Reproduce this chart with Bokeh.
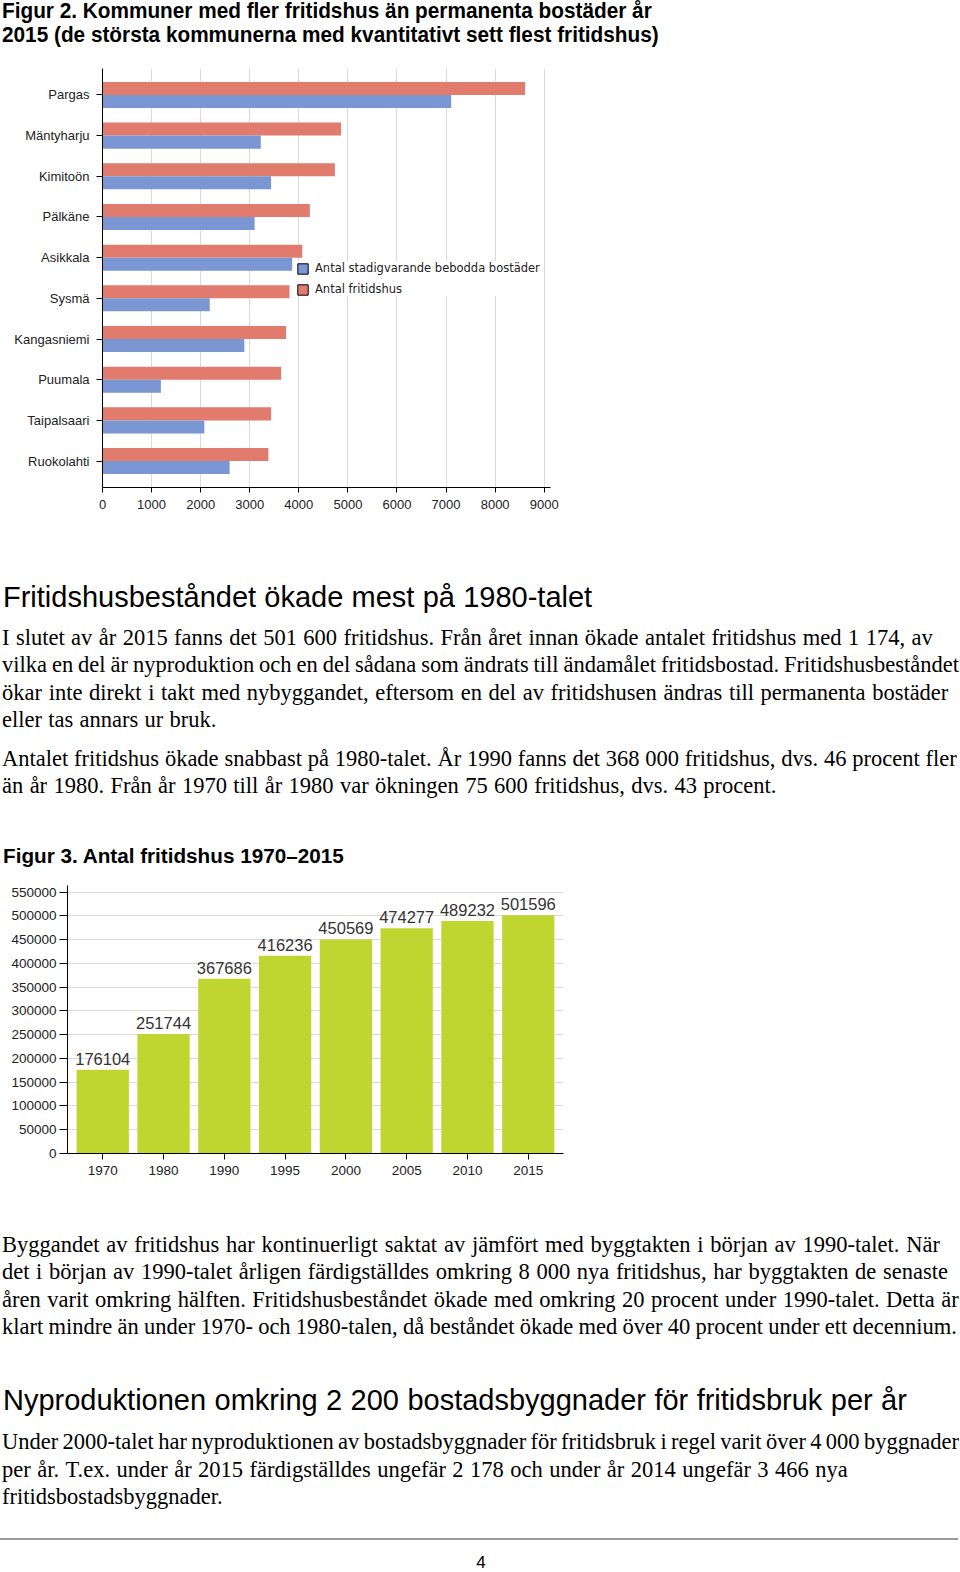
from bokeh.plotting import figure
from bokeh.models import (FactorRange, Range1d, FixedTicker, Legend, LegendItem, Div,
                          ColumnDataSource, BasicTickFormatter, GlobalInlineStyleSheet)
from bokeh.transform import dodge
from bokeh.layouts import column
from bokeh.embed import file_html
from bokeh.resources import INLINE
from bokeh.core.properties import value

# ---------------- data ----------------
cities = ["Pargas", "Mäntyharju", "Kimitoön", "Pälkäne", "Asikkala",
          "Sysmä", "Kangasniemi", "Puumala", "Taipalsaari", "Ruokolahti"]
fritidshus = [8610, 4860, 4735, 4225, 4070, 3810, 3740, 3640, 3435, 3380]
bostader = [7105, 3225, 3435, 3100, 3865, 2185, 2890, 1190, 2075, 2590]
x_ticks_fig2 = [0, 1000, 2000, 3000, 4000, 5000, 6000, 7000, 8000, 9000]
legend_labels = ["Antal stadigvarande bebodda bostäder", "Antal fritidshus"]

years = ["1970", "1980", "1990", "1995", "2000", "2005", "2010", "2015"]
antal = [176104, 251744, 367686, 416236, 450569, 474277, 489232, 501596]
y_ticks_fig3 = [0, 50000, 100000, 150000, 200000, 250000, 300000, 350000,
                400000, 450000, 500000, 550000]

RED = "#E07B6D"
BLUE = "#7A96D3"
GREEN = "#C0D630"
GRID = "#dadada"
LABEL = "#222222"

# ---------------- figure 2 (horizontal bars) ----------------
p1 = figure(width=570, height=475,
            y_range=FactorRange(factors=cities[::-1], range_padding=0.15,
                                range_padding_units="absolute"),
            x_range=Range1d(0, 9128),
            output_backend="svg", toolbar_location=None,
            min_border_left=102, min_border_right=20,
            min_border_top=13, min_border_bottom=43)
p1.frame_align = False
src1 = ColumnDataSource(dict(city=cities, fritidshus=fritidshus, bostader=bostader))
p1.hbar(y=dodge("city", 0.16, range=p1.y_range), left=0, right="fritidshus",
        height=0.32, source=src1, fill_color=RED, line_color=None)
p1.hbar(y=dodge("city", -0.16, range=p1.y_range), left=0, right="bostader",
        height=0.32, source=src1, fill_color=BLUE, line_color=None)
# legend-only swatches (outlined), carrying no visible value
src_leg = ColumnDataSource(dict(city=cities[:1], none=[float("nan")]))
leg_blue = p1.hbar(y="city", left="none", right="none", height=0.32, source=src_leg,
                   fill_color=BLUE, line_color="black", line_width=1)
leg_red = p1.hbar(y="city", left="none", right="none", height=0.32, source=src_leg,
                  fill_color=RED, line_color="black", line_width=1)
legend = Legend(items=[LegendItem(label=legend_labels[0], renderers=[leg_blue]),
                       LegendItem(label=legend_labels[1], renderers=[leg_red])],
                location=(194, 191), orientation="vertical",
                glyph_width=13, glyph_height=13, label_height=13, spacing=7,
                padding=4, margin=0, label_standoff=6,
                border_line_color=None, background_fill_color="white",
                background_fill_alpha=1.0,
                label_text_font="DejaVu Sans", label_text_font_size="11.5px",
                label_text_color=LABEL)
p1.add_layout(legend)

p1.outline_line_color = None
p1.ygrid.grid_line_color = None
p1.xgrid.grid_line_color = GRID
p1.xgrid.ticker = FixedTicker(ticks=x_ticks_fig2)
p1.xaxis.ticker = FixedTicker(ticks=x_ticks_fig2)
for ax in (p1.xaxis[0], p1.yaxis[0]):
    ax.axis_line_color = "black"
    ax.major_tick_line_color = "black"
    ax.major_tick_in = 0
    ax.minor_tick_line_color = None
    ax.major_label_text_font = "Liberation Sans"
    ax.major_label_text_font_size = "13px"
    ax.major_label_text_color = LABEL
p1.yaxis.major_tick_out = 6
p1.yaxis.major_label_standoff = 7
p1.xaxis.major_tick_out = 5
p1.xaxis.major_label_standoff = 7

# ---------------- figure 3 (vertical bars) ----------------
p2 = figure(width=575, height=315,
            x_range=FactorRange(factors=years, range_padding=0.08,
                                range_padding_units="absolute"),
            y_range=Range1d(0, 564000),
            output_backend="svg", toolbar_location=None,
            min_border_left=67, min_border_right=12,
            min_border_top=10, min_border_bottom=37)
p2.frame_align = False
src2 = ColumnDataSource(dict(year=years, antal=antal, label=[str(v) for v in antal]))
p2.vbar(x="year", top="antal", width=0.86, source=src2,
        fill_color=GREEN, line_color=None)
p2.text(x="year", y="antal", text="label", source=src2, text_align="center",
        text_baseline="alphabetic", y_offset=-11,
        text_font=value("Liberation Sans"), text_font_size="16.5px",
        text_color="#333333")
p2.outline_line_color = None
p2.xgrid.grid_line_color = None
p2.ygrid.grid_line_color = GRID
p2.ygrid.ticker = FixedTicker(ticks=y_ticks_fig3)
p2.yaxis.ticker = FixedTicker(ticks=y_ticks_fig3)
p2.yaxis.formatter = BasicTickFormatter(use_scientific=False)
for ax in (p2.xaxis[0], p2.yaxis[0]):
    ax.axis_line_color = "black"
    ax.major_tick_line_color = "black"
    ax.major_tick_in = 0
    ax.minor_tick_line_color = None
    ax.major_label_text_font = "Liberation Sans"
    ax.major_label_text_font_size = "13.5px"
    ax.major_label_text_color = LABEL
p2.yaxis.major_tick_out = 8
p2.yaxis.major_label_standoff = 3
p2.xaxis.major_tick_out = 6
p2.xaxis.major_label_standoff = 6

# ---------------- text blocks ----------------
S = 960.0 / 958.0
SERIF = "'Liberation Serif', 'Times New Roman', serif"
SANS = "'Liberation Sans', Arial, sans-serif"
ASC_SERIF = 0.8375
ASC_SANS = 0.8465


def flex_line(text, x, baseline, right, fs, family, asc, weight="normal"):
    top = baseline - asc * fs
    w = right * S - x
    words = "".join(f"<span>{t}</span>" for t in text.split(" "))
    return (f'<div style="position:absolute;left:{x}px;top:{top:.1f}px;width:{w:.1f}px;'
            f'display:flex;justify-content:space-between;white-space:nowrap;'
            f'font-family:{family};font-size:{fs}px;font-weight:{weight};'
            f'line-height:1;color:#000;">{words}</div>')


def plain_line(text, x, baseline, fs, family, asc, weight="normal", extra=""):
    top = baseline - asc * fs
    return (f'<div style="position:absolute;left:{x}px;top:{top:.1f}px;white-space:nowrap;'
            f'font-family:{family};font-size:{fs}px;font-weight:{weight};'
            f'line-height:1;color:#000;{extra}">{text}</div>')


def block(inner, h):
    return f'<div style="position:relative;width:960px;height:{h}px;overflow:visible;">{inner}</div>'


title_lines = ["Figur 2. Kommuner med fler fritidshus än permanenta bostäder år",
               "2015 (de största kommunerna med kvantitativt sett flest fritidshus)"]
heading1 = "Fritidshusbeståndet ökade mest på 1980-talet"
para1 = ["I slutet av år 2015 fanns det 501 600 fritidshus. Från året innan ökade antalet fritidshus med 1 174, av",
         "vilka en del är nyproduktion och en del sådana som ändrats till ändamålet fritidsbostad. Fritidshusbeståndet",
         "ökar inte direkt i takt med nybyggandet, eftersom en del av fritidshusen ändras till permanenta bostäder",
         "eller tas annars ur bruk."]
para2 = ["Antalet fritidshus ökade snabbast på 1980-talet. År 1990 fanns det 368 000 fritidshus, dvs. 46 procent fler",
         "än år 1980. Från år 1970 till år 1980 var ökningen 75 600 fritidshus, dvs. 43 procent."]
fig3_title = "Figur 3. Antal fritidshus 1970–2015"
para3 = ["Byggandet av fritidshus har kontinuerligt saktat av jämfört med byggtakten i början av 1990-talet. När",
         "det i början av 1990-talet årligen färdigställdes omkring 8 000 nya fritidshus, har byggtakten de senaste",
         "åren varit omkring hälften. Fritidshusbeståndet ökade med omkring 20 procent under 1990-talet. Detta är",
         "klart mindre än under 1970- och 1980-talen, då beståndet ökade med över 40 procent under ett decennium."]
heading2 = "Nyproduktionen omkring 2 200 bostadsbyggnader för fritidsbruk per år"
para4 = ["Under 2000-talet har nyproduktionen av bostadsbyggnader för fritidsbruk i regel varit över 4 000 byggnader",
         "per år. T.ex. under år 2015 färdigställdes ungefär 2 178 och under år 2014 ungefär 3 466 nya",
         "fritidsbostadsbyggnader."]

BODY = 22.5

# Div A: title (page y 0..55)
a_inner = ""
for txt, bl in zip(title_lines, [18.3, 42.3]):
    a_inner += plain_line(txt, 2, bl, 22, SANS, ASC_SANS, weight="bold",
                          extra="transform:scaleX(0.944);transform-origin:0 0;")
divA = Div(text=block(a_inner, 55), width=960, height=55, margin=0,
           stylesheets=[GlobalInlineStyleSheet(css="html,body{margin:0;padding:0;background:#fff;}")])

# Div C: page y 530..875
c_inner = flex_line(heading1, 3, 77.5, 591, 29, SANS, ASC_SANS)
for txt, bl, r in zip(para1, [115.5, 143.0, 170.5, 198.0], [931, 957, 946.5, 216]):
    c_inner += flex_line(txt, 2, bl, r, BODY, SERIF, ASC_SERIF)
for txt, bl, r in zip(para2, [236.5, 264.0], [955, 775]):
    c_inner += flex_line(txt, 2, bl, r, BODY, SERIF, ASC_SERIF)
c_inner += plain_line(fig3_title, 3, 333.0, 20.7, SANS, ASC_SANS, weight="bold")
divC = Div(text=block(c_inner, 345), width=960, height=345, margin=0)

# Div D: page y 1190..1572
d_inner = ""
for txt, bl, r in zip(para3, [62.5, 90.0, 117.5, 145.0], [938, 946, 957, 955]):
    d_inner += flex_line(txt, 2, bl, r, BODY, SERIF, ASC_SERIF)
d_inner += flex_line(heading2, 3, 220.5, 905, 29, SANS, ASC_SANS)
for txt, bl, r in zip(para4, [260.0, 287.5, 315.0], [957, 846, 224]):
    d_inner += flex_line(txt, 2, bl, r, BODY, SERIF, ASC_SERIF)
d_inner += '<div style="position:absolute;left:0px;top:348px;width:958px;height:2px;background:#9a9a9a;"></div>'
d_inner += (f'<div style="position:absolute;left:461px;top:{378.0 - ASC_SANS * 17:.1f}px;width:40px;'
            f'text-align:center;font-family:{SANS};font-size:17px;line-height:1;color:#000;">4</div>')
divD = Div(text=block(d_inner, 382), width=960, height=382, margin=0)

page = column(divA, p1, divC, p2, divD, spacing=0)

open("out.html", "w").write(file_html(page, INLINE))
